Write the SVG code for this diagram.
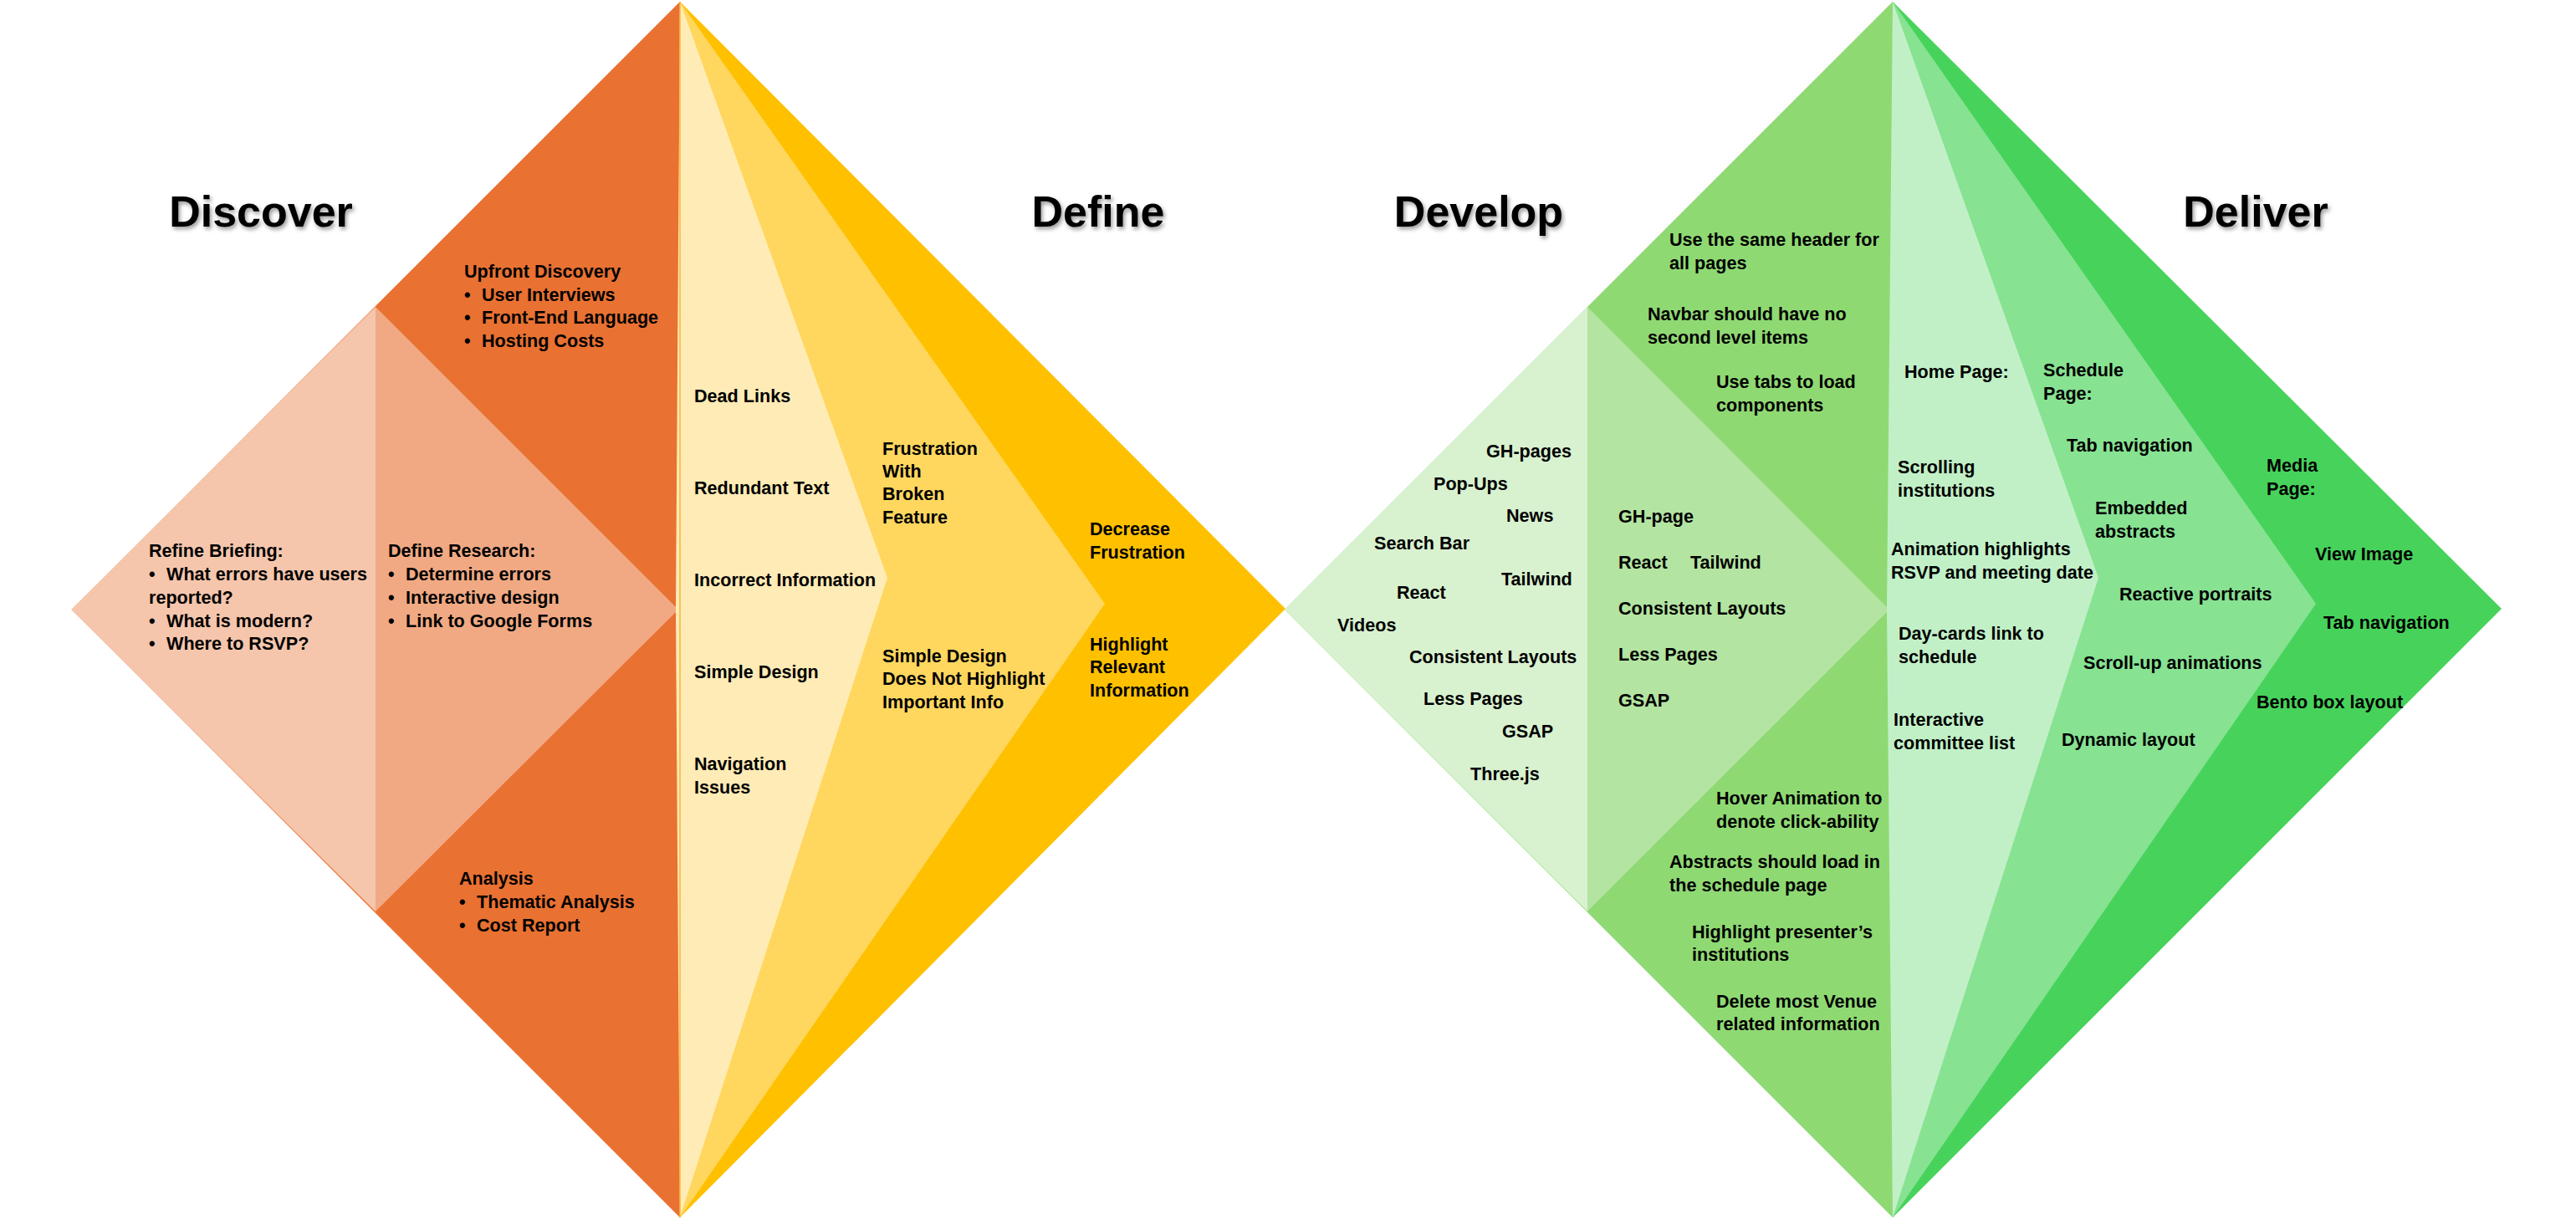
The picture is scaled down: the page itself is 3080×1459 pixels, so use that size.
<svg xmlns="http://www.w3.org/2000/svg" width="3080" height="1459" viewBox="0 0 3080 1459">
<defs>
<style>
.t{font-family:"Liberation Sans",Arial,sans-serif;font-weight:bold;font-size:21.6px;fill:#000}
.h{font-family:"Liberation Sans",Arial,sans-serif;font-weight:bold;font-size:52px;fill:#000;text-anchor:middle;filter:url(#sh)}
</style>
<filter id="sh" x="-10%" y="-30%" width="130%" height="170%">
<feDropShadow dx="2" dy="3" stdDeviation="2.5" flood-color="#000" flood-opacity="0.4"/>
</filter>
</defs>
<rect width="3080" height="1459" fill="#fff"/>

<g id="discover">
<polygon points="86,729 813,2 813,1456" fill="#E97132"/>
<polygon points="85,729 449,367 449,1090" fill="#F5C6AC"/>
<polygon points="449,367 811,729 449,1090" fill="#F1A983"/>
<text class="h" x="312" y="271">Discover</text>
<g id="upfront">
<text class="t" x="555" y="332">Upfront Discovery</text>
<text class="t" y="360"><tspan x="555">•</tspan><tspan x="576">User Interviews</tspan></text>
<text class="t" y="387"><tspan x="555">•</tspan><tspan x="576">Front-End Language</tspan></text>
<text class="t" y="415"><tspan x="555">•</tspan><tspan x="576">Hosting Costs</tspan></text>
</g>
<g id="refine">
<text class="t" x="178" y="666">Refine Briefing:</text>
<text class="t" y="694"><tspan x="178">•</tspan><tspan x="199">What errors have users</tspan></text>
<text class="t" x="178" y="722">reported?</text>
<text class="t" y="750"><tspan x="178">•</tspan><tspan x="199">What is modern?</tspan></text>
<text class="t" y="777"><tspan x="178">•</tspan><tspan x="199">Where to RSVP?</tspan></text>
</g>
<g id="research">
<text class="t" x="464" y="666">Define Research:</text>
<text class="t" y="694"><tspan x="464">•</tspan><tspan x="485">Determine errors</tspan></text>
<text class="t" y="722"><tspan x="464">•</tspan><tspan x="485">Interactive design</tspan></text>
<text class="t" y="750"><tspan x="464">•</tspan><tspan x="485">Link to Google Forms</tspan></text>
</g>
<g id="analysis">
<text class="t" x="549" y="1058">Analysis</text>
<text class="t" y="1086"><tspan x="549">•</tspan><tspan x="570">Thematic Analysis</tspan></text>
<text class="t" y="1114"><tspan x="549">•</tspan><tspan x="570">Cost Report</tspan></text>
</g>
</g>

<g id="define">
<polygon points="813,2 1537,728 813,1456" fill="#FFC000"/>
<polygon points="813,2 1321,722 813,1456" fill="#FFD75E"/>
<polygon points="813,2 1061,691 813,1456 808,729" fill="#FFEBB5"/>
<line x1="813" y1="2" x2="813" y2="1456" stroke="#F6B73C" stroke-width="1.5"/>
<text class="h" x="1313" y="271">Define</text>
<g id="problems">
<text class="t" x="830" y="481">Dead Links</text>
<text class="t" x="830" y="591">Redundant Text</text>
<text class="t" x="830" y="701">Incorrect Information</text>
<text class="t" x="830" y="811">Simple Design</text>
<text class="t" x="830" y="921">Navigation</text>
<text class="t" x="830" y="949">Issues</text>
</g>
<g id="themes">
<text class="t" x="1055" y="544">Frustration</text>
<text class="t" x="1055" y="571">With</text>
<text class="t" x="1055" y="598">Broken</text>
<text class="t" x="1055" y="626">Feature</text>
<text class="t" x="1055" y="792">Simple Design</text>
<text class="t" x="1055" y="819">Does Not Highlight</text>
<text class="t" x="1055" y="847">Important Info</text>
</g>
<g id="goals">
<text class="t" x="1303" y="640">Decrease</text>
<text class="t" x="1303" y="668">Frustration</text>
<text class="t" x="1303" y="778">Highlight</text>
<text class="t" x="1303" y="805">Relevant</text>
<text class="t" x="1303" y="833">Information</text>
</g>
</g>

<g id="develop">
<polygon points="1536,729 2263,2 2263,1456" fill="#8FD973"/>
<polygon points="1536,729 1898,367 1898,1090" fill="#D8F1CF"/>
<polygon points="1898,367 2259,729 1898,1090" fill="#B3E4A1"/>
<text class="h" x="1768" y="271">Develop</text>
<g id="dev-ideas">
<text class="t" x="1996" y="294">Use the same header for</text>
<text class="t" x="1996" y="322">all pages</text>
<text class="t" x="1970" y="383">Navbar should have no</text>
<text class="t" x="1970" y="411">second level items</text>
<text class="t" x="2052" y="464">Use tabs to load</text>
<text class="t" x="2052" y="492">components</text>
<text class="t" x="2052" y="962">Hover Animation to</text>
<text class="t" x="2052" y="990">denote click-ability</text>
<text class="t" x="1996" y="1038">Abstracts should load in</text>
<text class="t" x="1996" y="1066">the schedule page</text>
<text class="t" x="2023" y="1122">Highlight presenter’s</text>
<text class="t" x="2023" y="1149">institutions</text>
<text class="t" x="2052" y="1205">Delete most Venue</text>
<text class="t" x="2052" y="1232">related information</text>
</g>
<g id="dev-options">
<text class="t" x="1777" y="547">GH-pages</text>
<text class="t" x="1714" y="586">Pop-Ups</text>
<text class="t" x="1801" y="624">News</text>
<text class="t" x="1643" y="657">Search Bar</text>
<text class="t" x="1795" y="700">Tailwind</text>
<text class="t" x="1670" y="716">React</text>
<text class="t" x="1599" y="755">Videos</text>
<text class="t" x="1685" y="793">Consistent Layouts</text>
<text class="t" x="1702" y="843">Less Pages</text>
<text class="t" x="1796" y="882">GSAP</text>
<text class="t" x="1758" y="933">Three.js</text>
</g>
<g id="dev-chosen">
<text class="t" x="1935" y="625">GH-page</text>
<text class="t" x="1935" y="680">React</text>
<text class="t" x="2021" y="680">Tailwind</text>
<text class="t" x="1935" y="735">Consistent Layouts</text>
<text class="t" x="1935" y="790">Less Pages</text>
<text class="t" x="1935" y="845">GSAP</text>
</g>
</g>

<g id="deliver">
<polygon points="2263,2 2991,728 2263,1456" fill="#47D35B"/>
<polygon points="2263,2 2769,722 2263,1456" fill="#87E292"/>
<polygon points="2263,2 2509,691 2263,1456 2256,729" fill="#C1F0C7"/>
<text class="h" x="2697" y="271">Deliver</text>
<g id="home">
<text class="t" x="2277" y="452">Home Page:</text>
<text class="t" x="2269" y="566">Scrolling</text>
<text class="t" x="2269" y="594">institutions</text>
<text class="t" x="2261" y="664">Animation highlights</text>
<text class="t" x="2261" y="692">RSVP and meeting date</text>
<text class="t" x="2270" y="765">Day-cards link to</text>
<text class="t" x="2270" y="793">schedule</text>
<text class="t" x="2264" y="868">Interactive</text>
<text class="t" x="2264" y="896">committee list</text>
</g>
<g id="schedule">
<text class="t" x="2443" y="450">Schedule</text>
<text class="t" x="2443" y="478">Page:</text>
<text class="t" x="2471" y="540">Tab navigation</text>
<text class="t" x="2505" y="615">Embedded</text>
<text class="t" x="2505" y="643">abstracts</text>
<text class="t" x="2534" y="718">Reactive portraits</text>
<text class="t" x="2491" y="800">Scroll-up animations</text>
<text class="t" x="2465" y="892">Dynamic layout</text>
</g>
<g id="media">
<text class="t" x="2710" y="564">Media</text>
<text class="t" x="2710" y="592">Page:</text>
<text class="t" x="2768" y="670">View Image</text>
<text class="t" x="2778" y="752">Tab navigation</text>
<text class="t" x="2698" y="847">Bento box layout</text>
</g>
</g>
</svg>
